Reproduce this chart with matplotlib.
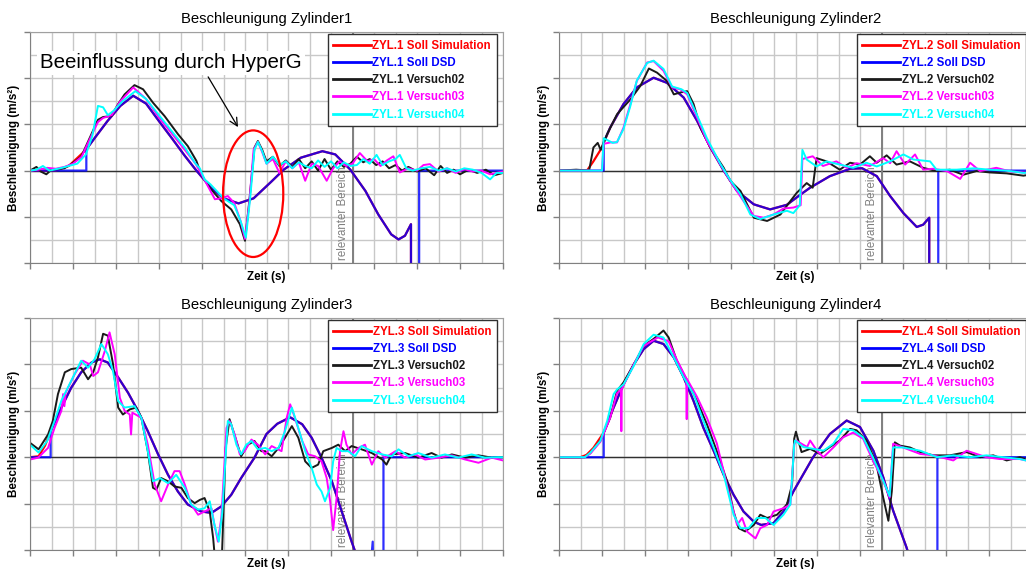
import matplotlib
matplotlib.use("Agg")
import matplotlib.pyplot as plt
from matplotlib.lines import Line2D
from matplotlib.patches import Ellipse, Rectangle
from matplotlib.ticker import MultipleLocator, NullFormatter

plt.rcParams['font.family'] = ['Liberation Sans', 'DejaVu Sans']
plt.rcParams['lines.solid_joinstyle'] = 'round'

# ---------------- Zylinder 1 ----------------
z1_sim_t = [0, 0.6, 0.9, 1.2, 1.31, 1.5, 1.8, 2.1, 2.4, 2.7, 3.0, 3.3, 3.6, 3.87, 4.2, 4.5, 4.85,
            5.2, 5.6, 5.9, 6.3, 6.8, 7.1, 7.45, 7.8, 8.1, 8.4, 8.57, 8.72, 8.86, 8.86]
z1_sim_a = [0, 0, 0.1, 0.36, 0.46, 0.7, 1.07, 1.4, 1.62, 1.45, 1.07, 0.7, 0.32, 0.0, -0.36, -0.6, -0.71,
            -0.6, -0.25, 0.02, 0.28, 0.42, 0.35, 0.02, -0.44, -0.95, -1.38, -1.49, -1.41, -1.16, -3.0]
z1_dsd_t = [0, 1.31, 1.31, 1.5, 1.8, 2.1, 2.4, 2.7, 3.0, 3.3, 3.6, 3.87, 4.2, 4.5, 4.85,
            5.2, 5.6, 5.9, 6.3, 6.8, 7.1, 7.45, 7.8, 8.1, 8.4, 8.57, 8.72, 8.86, 8.86, 9.05, 9.05, 11]
z1_dsd_a = [0, 0, 0.46, 0.7, 1.07, 1.4, 1.62, 1.45, 1.07, 0.7, 0.32, 0.0, -0.36, -0.6, -0.71,
            -0.6, -0.25, 0.02, 0.28, 0.42, 0.35, 0.02, -0.44, -0.95, -1.38, -1.49, -1.41, -1.16, -3.0, -3.0, 0, 0]
z1_v02_t = [0, 0.15, 0.25, 0.38, 0.5, 0.8, 0.96, 1.19, 1.39, 1.58, 1.7, 1.89, 2.05, 2.2, 2.43, 2.63, 2.86,
            3.13, 3.44, 3.67, 3.87, 3.98, 4.18, 4.45, 4.68, 4.88, 5.0, 5.1, 5.22, 5.3, 5.4, 5.5, 5.65,
            5.8, 5.95, 6.1, 6.25, 6.4, 6.55, 6.7, 6.85, 7.0, 7.15, 7.3, 7.45, 7.6, 7.75, 7.9, 8.05,
            8.2, 8.35, 8.5, 8.65, 8.8, 9.0, 9.2, 9.4, 9.55, 9.7, 9.85, 10.0, 10.2, 10.4, 10.6, 10.8, 11]
z1_v02_a = [0, 0.08, -0.02, -0.08, 0.02, 0.05, 0.14, 0.3, 0.71, 1.1, 1.16, 1.18, 1.44, 1.65, 1.85, 1.76, 1.47,
            1.18, 0.79, 0.53, 0.21, -0.08, -0.37, -0.66, -0.84, -1.16, -1.52, -0.66, 0.5, 0.64, 0.45, 0.2, 0.3,
            0.1, 0.22, 0.08, 0.25, 0.05, 0.2, 0.0, 0.25, 0.02, 0.2, 0.08, 0.15, 0.3, 0.18, 0.25, 0.12,
            0.2, 0.05, 0.12, 0.0, 0.08, -0.02, 0.05, -0.1, 0.1, -0.05, 0.02, -0.08, 0.02, -0.05, 0.02, -0.1, -0.05]
z1_v03_t = [0, 0.2, 0.4, 0.6, 0.8, 1.0, 1.2, 1.4, 1.58, 1.7, 1.9, 2.1, 2.4, 2.7, 3.0, 3.3, 3.6, 3.85,
            4.0, 4.3, 4.45, 4.6, 4.75, 4.9, 5.0, 5.1, 5.2, 5.3, 5.4, 5.5, 5.65, 5.8, 5.95, 6.1, 6.25,
            6.4, 6.55, 6.7, 6.9, 7.05, 7.2, 7.35, 7.5, 7.67, 7.85, 8.0, 8.15, 8.3, 8.45, 8.6, 8.8,
            9.0, 9.15, 9.3, 9.5, 9.7, 9.9, 10.1, 10.3, 10.5, 10.7, 10.85, 11]
z1_v03_a = [0, 0.02, 0.06, 0.04, 0.08, 0.15, 0.3, 0.7, 1.05, 1.14, 1.2, 1.5, 1.8, 1.55, 1.15, 0.8, 0.45, 0.15,
            -0.1, -0.62, -0.6, -0.55, -0.7, -1.1, -1.48, -0.7, 0.45, 0.62, 0.4, 0.15, 0.25, -0.05, 0.2, 0.05, 0.18,
            -0.22, 0.15, 0.1, -0.22, 0.05, 0.2, 0.1, 0.15, 0.38, 0.2, 0.25, 0.1, 0.22, 0.31, -0.04, 0.05,
            0.0, 0.12, 0.14, -0.02, 0.05, -0.05, 0.03, -0.02, 0.0, -0.08, -0.05, -0.02]
z1_v04_t = [0, 0.15, 0.3, 0.45, 0.7, 0.9, 1.1, 1.3, 1.45, 1.58, 1.7, 1.81, 1.95, 2.15, 2.45, 2.7, 3.0,
            3.3, 3.6, 3.85, 3.95, 4.06, 4.2, 4.5, 4.75, 4.9, 5.02, 5.12, 5.22, 5.3, 5.4, 5.5, 5.65,
            5.8, 5.95, 6.1, 6.25, 6.4, 6.55, 6.7, 6.85, 7.0, 7.15, 7.3, 7.45, 7.6, 7.75, 7.9, 8.06,
            8.2, 8.35, 8.5, 8.6, 8.75, 8.9, 9.1, 9.3, 9.5, 9.7, 9.9, 10.1, 10.3, 10.5, 10.7, 10.85, 11]
z1_v04_a = [0, 0.02, 0.1, 0.0, 0.05, 0.1, 0.15, 0.35, 0.75, 1.4, 1.37, 1.2, 1.3, 1.5, 1.72, 1.55, 1.2,
            0.85, 0.5, 0.15, 0.05, -0.19, -0.3, -0.6, -0.75, -1.1, -1.45, -0.6, 0.45, 0.62, 0.42, 0.15, 0.3,
            0.12, 0.2, 0.05, 0.18, 0.1, 0.05, 0.22, 0.08, 0.2, 0.05, 0.18, 0.1, 0.12, 0.25, 0.15, 0.34,
            0.12, 0.2, 0.25, 0.34, 0.05, 0.0, 0.05, 0.08, 0.0, 0.05, -0.02, 0.05, 0.02, -0.05, -0.19, -0.05, -0.05]

# ---------------- Zylinder 2 ----------------
z2_sim_t = [0, 0.65, 0.8, 1.0, 1.04, 1.19, 1.5, 1.81, 2.2, 2.51, 2.9, 3.21, 3.52, 3.83, 4.14, 4.53, 4.91,
            5.3, 5.6, 5.84, 6.3, 6.77, 7.05, 7.39, 7.7, 8.01, 8.32, 8.47, 8.61, 8.61]
z2_sim_a = [0, 0, 0.2, 0.5, 0.6, 0.93, 1.44, 1.8, 2.01, 1.9, 1.58, 1.08, 0.5, 0.0, -0.44, -0.73, -0.84,
            -0.74, -0.53, -0.37, -0.12, 0.04, 0.05, -0.12, -0.55, -0.92, -1.22, -1.17, -1.02, -3.0]
z2_dsd_t = [0, 1.04, 1.04, 1.19, 1.5, 1.81, 2.2, 2.51, 2.9, 3.21, 3.52, 3.83, 4.14, 4.53, 4.91,
            5.3, 5.6, 5.84, 6.3, 6.77, 7.05, 7.39, 7.7, 8.01, 8.32, 8.47, 8.61, 8.61, 8.82, 8.82, 11]
z2_dsd_a = [0, 0, 0.62, 0.93, 1.44, 1.8, 2.01, 1.9, 1.58, 1.08, 0.5, 0.0, -0.44, -0.73, -0.84,
            -0.74, -0.53, -0.37, -0.12, 0.04, 0.05, -0.12, -0.55, -0.92, -1.22, -1.17, -1.02, -3.0, -3.0, 0, 0]
z2_v02_t = [0, 0.4, 0.7, 0.8, 0.9, 0.97, 1.12, 1.35, 1.66, 1.89, 2.09, 2.28, 2.51, 2.67, 2.82, 2.98, 3.13,
            3.29, 3.52, 3.83, 3.98, 4.22, 4.53, 4.84, 5.15, 5.38, 5.53, 5.76, 5.9, 5.99, 6.22, 6.53, 6.77,
            7.0, 7.23, 7.39, 7.62, 7.85, 8.16, 8.47, 8.78, 9.09, 9.4, 9.71, 10.02, 10.41, 10.8, 11]
z2_v02_a = [0, 0.02, 0.0, 0.5, 0.6, 0.45, 0.79, 1.22, 1.54, 1.83, 2.21, 2.12, 1.94, 1.65, 1.69, 1.72, 1.44,
            0.93, 0.5, 0.06, -0.22, -0.44, -1.02, -1.09, -0.95, -0.66, -0.48, -0.27, -0.37, 0.27, 0.2, 0.02, 0.17,
            0.13, 0.31, 0.17, 0.33, 0.13, 0.2, 0.06, -0.01, 0.02, -0.09, -0.01, -0.04, -0.06, -0.11, -0.08]
z2_v03_t = [0, 0.5, 1.0, 1.04, 1.2, 1.35, 1.5, 1.66, 1.81, 2.05, 2.2, 2.43, 2.63, 2.82, 2.98, 3.21, 3.44,
            3.75, 3.98, 4.29, 4.53, 4.76, 4.99, 5.22, 5.45, 5.62, 5.66, 5.9, 6.14, 6.45, 6.69, 6.92, 7.23,
            7.54, 7.7, 7.85, 8.05, 8.28, 8.47, 8.7, 9.02, 9.33, 9.56, 9.79, 10.17, 10.5, 10.8, 11]
z2_v03_a = [0, 0, 0.0, 0.58, 0.61, 0.61, 0.93, 1.44, 1.94, 2.34, 2.37, 2.16, 1.8, 1.76, 1.65, 1.15, 0.64,
            0.14, -0.22, -0.66, -0.98, -1.02, -0.95, -0.82, -0.8, -0.75, 0.25, 0.31, 0.1, 0.2, 0.06, 0.16, 0.1,
            0.27, 0.16, 0.42, 0.13, 0.35, 0.02, 0.04, -0.01, -0.18, 0.17, -0.01, 0.06, -0.02, -0.04, -0.06]
z2_v04_t = [0, 0.5, 1.0, 1.04, 1.25, 1.35, 1.5, 1.66, 1.81, 2.05, 2.2, 2.43, 2.63, 2.85, 2.98, 3.21, 3.44,
            3.75, 3.98, 4.22, 4.45, 4.68, 4.99, 5.3, 5.45, 5.6, 5.66, 5.76, 5.99, 6.22, 6.53, 6.84, 7.15,
            7.39, 7.7, 8.01, 8.24, 8.63, 8.78, 9.25, 9.64, 10.02, 10.4, 10.8, 11]
z2_v04_a = [0, 0, 0, 0.7, 0.6, 0.62, 0.9, 1.4, 1.95, 2.33, 2.38, 2.2, 1.82, 1.76, 1.68, 1.2, 0.7,
            0.15, -0.2, -0.51, -0.95, -1.05, -0.95, -0.87, -0.92, -0.75, 0.45, 0.24, 0.09, 0.2, 0.13, 0.06, 0.17,
            0.09, 0.2, 0.35, 0.24, 0.2, 0.02, 0.02, 0.05, 0.02, 0.0, -0.05, -0.04]

# ---------------- Zylinder 3 ----------------
z3_sim_t = [0, 0.2, 0.35, 0.48, 0.73, 0.96, 1.19, 1.43, 1.62, 1.81, 2.05, 2.28, 2.51, 2.74, 2.98, 3.21,
            3.44, 3.67, 3.98, 4.22, 4.45, 4.68, 4.91, 5.22, 5.5, 5.75, 6.05, 6.33, 6.55, 6.78, 7.02, 7.25,
            7.48, 7.56, 7.8]
z3_sim_a = [0, 0.02, 0.25, 0.56, 1.07, 1.5, 1.83, 2.04, 2.11, 2.04, 1.72, 1.39, 1.0, 0.56, 0.06, -0.38,
            -0.74, -1.02, -1.17, -1.2, -1.06, -0.81, -0.45, -0.01, 0.5, 0.72, 0.86, 0.71, 0.42, -0.01, -0.52, -1.17,
            -1.82, -2.03, -2.6]
z3_dsd_t = [0, 0.48, 0.48, 0.73, 0.96, 1.19, 1.43, 1.62, 1.81, 2.05, 2.28, 2.51, 2.74, 2.98, 3.21,
            3.44, 3.67, 3.98, 4.22, 4.45, 4.68, 4.91, 5.22, 5.5, 5.75, 6.05, 6.33, 6.55, 6.78, 7.02, 7.25,
            7.48, 7.56, 7.8, 7.92, 7.97, 7.99, 8.22, 8.22, 11]
z3_dsd_a = [0, 0, 0.56, 1.07, 1.5, 1.83, 2.04, 2.11, 2.04, 1.72, 1.39, 1.0, 0.56, 0.06, -0.38,
            -0.74, -1.02, -1.17, -1.2, -1.06, -0.81, -0.45, -0.01, 0.5, 0.72, 0.86, 0.71, 0.42, -0.01, -0.52, -1.17,
            -1.82, -2.03, -2.6, -2.4, -1.82, -3.0, -3.0, 0, 0]
z3_v02_t = [0, 0.2, 0.42, 0.53, 0.65, 0.81, 0.96, 1.19, 1.35, 1.47, 1.58, 1.7, 1.81, 1.93, 2.05, 2.16,
            2.32, 2.47, 2.59, 2.74, 2.86, 2.94, 3.05, 3.21, 3.36, 3.52, 3.67, 3.83, 3.95, 4.06, 4.18, 4.26,
            4.33, 4.45, 4.55, 4.64, 4.8, 4.91, 5.07, 5.22, 5.38, 5.47, 5.62, 5.78, 5.93, 6.09, 6.24, 6.4,
            6.55, 6.7, 6.82, 7.02, 7.17, 7.33, 7.48, 7.71, 7.95, 8.19, 8.29, 8.41, 8.72, 9.03, 9.34, 9.57,
            9.81, 10.12, 10.43, 10.74, 11]
z3_v02_a = [0.31, 0.17, 0.49, 0.78, 1.36, 1.83, 1.9, 1.93, 1.68, 1.83, 2.15, 2.66, 2.62, 2.01, 1.07, 0.92,
            1.03, 1.07, 0.85, 0.13, -0.66, -0.7, -0.45, -0.52, -0.63, -0.66, -0.88, -0.99, -0.92, -0.88, -1.17, -1.75,
            -2.5, -2.5, 0.2, 0.82, 0.35, 0.02, 0.27, 0.35, 0.13, 0.13, 0.02, 0.2, 0.42, 0.67, 0.42, -0.09,
            -0.23, -0.16, 0.13, 0.2, 0.27, 0.13, 0.24, 0.17, 0.09, -0.05, -0.16, 0.06, 0.09, -0.01, 0.09, -0.01,
            0.06, -0.01, 0.04, -0.01, 0.0]
z3_v03_t = [0, 0.19, 0.42, 0.57, 0.73, 0.77, 0.8, 0.83, 1.04, 1.23, 1.39, 1.47, 1.58, 1.74, 1.85, 1.97,
            2.09, 2.2, 2.32, 2.35, 2.38, 2.59, 2.74, 2.9, 3.05, 3.21, 3.36, 3.48, 3.6, 3.75, 3.91, 4.06,
            4.22, 4.29, 4.37, 4.45, 4.57, 4.64, 4.76, 4.88, 4.99, 5.15, 5.3, 5.47, 5.62, 5.85, 5.97, 6.05,
            6.16, 6.33, 6.47, 6.63, 6.78, 6.9, 6.98, 7.05, 7.13, 7.21, 7.29, 7.36, 7.48, 7.64, 7.79, 7.95,
            8.1, 8.26, 8.5, 8.72, 8.95, 9.19, 9.5, 9.81, 10.12, 10.43, 10.74, 11]
z3_v03_a = [-0.05, -0.01, 0.2, 0.63, 1.0, 1.36, 1.1, 1.39, 1.79, 2.08, 2.0, 1.75, 1.83, 2.29, 2.69, 2.22,
            1.28, 1.0, 0.92, 0.49, 0.96, 0.85, 0.27, -0.59, -0.95, -0.59, -0.3, -0.3, -0.59, -1.02, -1.24, -1.17,
            -1.1, -1.46, -1.82, -1.3, 0.63, 0.78, 0.49, 0.06, 0.13, 0.38, 0.27, 0.06, 0.24, 0.13, 0.85, 1.14,
            0.85, 0.35, 0.06, 0.02, -0.09, -0.45, -0.95, -1.57, -0.88, 0.13, 0.56, 0.27, 0.06, 0.2, 0.27, -0.16,
            0.13, -0.01, 0.13, -0.01, 0.06, -0.05, -0.01, 0.04, -0.05, -0.12, -0.01, -0.07]
z3_v04_t = [0, 0.2, 0.4, 0.57, 0.73, 0.96, 1.19, 1.35, 1.5, 1.66, 1.81, 1.93, 2.05, 2.2, 2.43, 2.59,
            2.74, 2.86, 3.02, 3.21, 3.4, 3.6, 3.75, 3.91, 4.06, 4.18, 4.29, 4.39, 4.47, 4.6, 4.68, 4.8,
            4.91, 5.03, 5.15, 5.3, 5.47, 5.62, 5.78, 5.93, 6.09, 6.24, 6.4, 6.55, 6.67, 6.78, 6.86, 6.98,
            7.05, 7.13, 7.25, 7.4, 7.56, 7.71, 7.95, 8.19, 8.41, 8.57, 8.8, 9.03, 9.34, 9.65, 9.96, 10.27,
            10.58, 10.89, 11]
z3_v04_a = [0.27, 0.1, 0.35, 0.78, 1.22, 1.65, 2.08, 1.93, 2.11, 2.44, 2.22, 1.86, 1.21, 1.07, 1.1, 0.85,
            0.13, -0.52, -0.45, -0.56, -0.38, -0.66, -1.02, -1.13, -1.1, -0.95, -1.46, -1.82, -1.2, 0.78, 0.71, 0.27,
            0.06, 0.27, 0.35, 0.17, 0.2, 0.13, 0.2, 0.56, 1.07, 0.63, 0.13, -0.23, -0.59, -0.74, -0.95, -0.66,
            -0.09, 0.2, 0.13, 0.13, 0.02, 0.24, 0.13, 0.06, 0.02, 0.17, 0.02, 0.09, -0.01, 0.06, -0.01, 0.06,
            -0.01, 0.0, 0.0]

# ---------------- Zylinder 4 ----------------
z4_sim_t = [0, 0.5, 0.64, 0.8, 1.04, 1.27, 1.5, 1.74, 1.97, 2.2, 2.43, 2.67, 2.9, 3.13, 3.36, 3.6, 3.83,
            4.06, 4.29, 4.53, 4.7, 4.99, 5.22, 5.45, 5.91, 6.3, 6.69, 7.0, 7.31, 7.54, 7.77, 8.08, 8.3]
z4_sim_a = [0, 0, 0.05, 0.2, 0.53, 1.07, 1.57, 2.0, 2.33, 2.51, 2.44, 2.15, 1.72, 1.21, 0.63, 0.13, -0.38,
            -0.81, -1.17, -1.39, -1.46, -1.42, -1.17, -0.74, 0.0, 0.5, 0.79, 0.65, 0.14, -0.43, -1.15, -1.94, -2.6]
z4_dsd_t = [0, 1.04, 1.04, 1.27, 1.5, 1.74, 1.97, 2.2, 2.43, 2.67, 2.9, 3.13, 3.36, 3.6, 3.83,
            4.06, 4.29, 4.53, 4.7, 4.99, 5.22, 5.45, 5.91, 6.3, 6.69, 7.0, 7.31, 7.54, 7.77, 8.08, 8.3,
            8.8, 8.8, 11]
z4_dsd_a = [0, 0, 0.53, 1.07, 1.57, 2.0, 2.33, 2.51, 2.44, 2.15, 1.72, 1.21, 0.63, 0.13, -0.38,
            -0.81, -1.17, -1.39, -1.46, -1.42, -1.17, -0.74, 0.0, 0.5, 0.79, 0.65, 0.14, -0.43, -1.15, -1.94, -2.6,
            -3.0, 0, 0]
z4_v02_t = [0, 0.6, 0.73, 0.96, 1.19, 1.35, 1.5, 1.74, 1.97, 2.2, 2.43, 2.55, 2.74, 2.98, 3.21, 3.44,
            3.67, 3.91, 4.06, 4.18, 4.33, 4.53, 4.68, 4.84, 5.07, 5.3, 5.42, 5.47, 5.51, 5.64, 5.84, 6.07,
            6.3, 6.53, 6.77, 6.92, 7.15, 7.38, 7.54, 7.66, 7.74, 7.81, 7.93, 8.16, 8.4, 8.71, 9.09, 9.48,
            9.79, 10.1, 10.41, 10.72, 11]
z4_v02_a = [0, 0.0, 0.09, 0.35, 0.85, 1.43, 1.61, 2.0, 2.4, 2.55, 2.73, 2.58, 2.08, 1.65, 1.21, 0.71,
            0.13, -0.52, -1.17, -1.53, -1.6, -1.46, -1.24, -1.31, -1.24, -1.02, -0.59, 0.4, 0.55, 0.11, 0.18, 0.07,
            0.22, 0.36, 0.61, 0.58, 0.36, -0.14, -0.87, -1.37, -0.73, 0.32, 0.25, 0.21, 0.11, 0.04, 0.04, 0.11,
            0.0, 0.04, -0.07, 0.0, -0.1]
z4_v03_t = [0, 0.6, 0.73, 0.96, 1.19, 1.35, 1.44, 1.45, 1.46, 1.74, 1.97, 2.3, 2.55, 2.74, 2.96, 2.97,
            2.98, 3.21, 3.44, 3.67, 3.98, 4.14, 4.26, 4.37, 4.57, 4.68, 4.84, 4.99, 5.22, 5.38, 5.47, 5.51,
            5.77, 5.84, 6.0, 6.15, 6.38, 6.61, 6.84, 7.07, 7.3, 7.54, 7.69, 7.77, 8.0, 8.4, 8.71, 9.17,
            9.48, 9.94, 10.25, 10.72, 11]
z4_v03_a = [0, 0.0, 0.08, 0.33, 0.85, 1.38, 1.45, 0.56, 1.47, 2.0, 2.4, 2.58, 2.5, 2.1, 1.7, 0.82,
            1.68, 1.3, 0.85, 0.3, -0.88, -1.46, -1.31, -1.6, -1.75, -1.53, -1.46, -1.17, -1.1, -1.02, 0.27, 0.36,
            0.22, 0.36, 0.14, 0.0, 0.21, 0.43, 0.53, 0.4, -0.07, -0.51, -0.87, 0.29, 0.21, 0.07, 0.04, -0.07,
            0.14, 0.0, -0.04, -0.04, -0.1]
z4_v04_t = [0, 0.6, 0.73, 0.96, 1.12, 1.27, 1.35, 1.5, 1.74, 1.97, 2.2, 2.43, 2.67, 2.9, 3.13, 3.36,
            3.6, 3.83, 4.06, 4.22, 4.41, 4.6, 4.8, 4.99, 5.22, 5.38, 5.47, 5.49, 5.68, 5.91, 6.15, 6.38,
            6.61, 6.84, 7.07, 7.3, 7.54, 7.69, 7.77, 8.0, 8.4, 8.79, 9.17, 9.55, 9.94, 10.33, 10.72, 11]
z4_v04_a = [0, 0.0, 0.1, 0.35, 0.78, 1.36, 1.46, 1.57, 1.97, 2.44, 2.64, 2.58, 2.15, 1.72, 1.36, 0.78,
            0.2, -0.37, -1.24, -1.53, -1.53, -1.31, -1.31, -1.46, -1.24, -1.02, 0.27, 0.36, 0.22, 0.18, 0.14, 0.29,
            0.61, 0.58, 0.43, 0.0, -0.51, -0.84, 0.21, 0.21, 0.14, 0.0, 0.04, 0.0, 0.04, 0.0, -0.04, -0.1]

series_names = ["Soll Simulation", "Soll DSD", "Versuch02", "Versuch03", "Versuch04"]
series_colors = ["#ff0000", "#0000ff", "#1a1a1a", "#ff00ff", "#00ffff"]

W, H = 1026, 569
fig = plt.figure(figsize=(W / 100, H / 100), dpi=100)
fig.patch.set_facecolor("white")


def make_axes(left, top, bottom, width=473):
    return fig.add_axes([left / W, 1 - bottom / H, width / W, (bottom - top) / H])


def draw_panel(ax, num, data):
    ax.set_xlim(0, 11)
    ax.set_ylim(-2, 3)
    ax.xaxis.set_major_locator(MultipleLocator(1))
    ax.xaxis.set_minor_locator(MultipleLocator(0.5))
    ax.yaxis.set_major_locator(MultipleLocator(1))
    ax.yaxis.set_minor_locator(MultipleLocator(0.5))
    ax.xaxis.set_major_formatter(NullFormatter())
    ax.yaxis.set_major_formatter(NullFormatter())
    ax.tick_params(which="major", direction="out", length=4, width=1, color="#808080")
    ax.tick_params(which="minor", length=0)
    ax.grid(True, which="both", color="#c8c8c8", lw=1.0, zorder=0)
    ax.set_axisbelow(True)
    for side in ["left", "bottom"]:
        ax.spines[side].set_color("#808080")
    for side in ["top", "right"]:
        ax.spines[side].set_color("#a0a0a0")

    ax.axhline(0, color="#303030", lw=1.0, zorder=1.2)
    ax.axvline(7.5, color="#808080", lw=1.4, zorder=1.3)
    t = ax.text(7.28, -1.93, "relevanter Bereich", rotation=90, ha="center", va="bottom",
                color="#808080", fontsize=8.3, zorder=1.4)
    t.set_clip_path(Rectangle((6.5, -2), 1.0, 2.0, transform=ax.transData))

    (sim_t, sim_a), (dsd_t, dsd_a) = data[0], data[1]
    ax.plot(sim_t, sim_a, color=series_colors[0], lw=1.6, zorder=2)
    ax.plot(dsd_t, dsd_a, color=series_colors[1], lw=1.6, alpha=0.82, zorder=2.1)
    for k in range(2, 5):
        tt, aa = data[k]
        ax.plot(tt, aa, color=series_colors[k], lw=1.4, zorder=2 + 0.1 * k)

    handles = [Line2D([], [], color=c, lw=2.0) for c in series_colors]
    labels = [f"ZYL.{num} {n}" for n in series_names]
    leg = ax.legend(handles, labels, loc="upper right", bbox_to_anchor=(0.987, 0.991),
                    borderaxespad=0, fancybox=False, framealpha=1, edgecolor="#303030",
                    prop={"family": "Liberation Sans", "weight": "bold", "size": 8.3},
                    handlelength=3.3, handletextpad=0.1, borderpad=0.5, labelspacing=0.45)
    leg.get_frame().set_linewidth(1.0)
    leg.set_zorder(10)
    for txt, c in zip(leg.get_texts(), series_colors):
        txt.set_color(c)

    ax.set_title(f"Beschleunigung Zylinder{num}", fontsize=10.7, pad=6.3)
    ax.text(0.5, -17 / 231, "Zeit (s)", transform=ax.transAxes, ha="center", va="baseline",
            fontsize=8.4, fontweight="bold")
    ax.text(-15.5 / 473, 0.5, "Beschleunigung (m/s²)", transform=ax.transAxes, rotation=90,
            ha="center", va="center", fontsize=8.4, fontweight="bold")


panels = [
    (make_axes(30, 32, 263), 1, [(z1_sim_t, z1_sim_a), (z1_dsd_t, z1_dsd_a), (z1_v02_t, z1_v02_a),
                                (z1_v03_t, z1_v03_a), (z1_v04_t, z1_v04_a)]),
    (make_axes(559, 32, 263), 2, [(z2_sim_t, z2_sim_a), (z2_dsd_t, z2_dsd_a), (z2_v02_t, z2_v02_a),
                                 (z2_v03_t, z2_v03_a), (z2_v04_t, z2_v04_a)]),
    (make_axes(30, 318, 550), 3, [(z3_sim_t, z3_sim_a), (z3_dsd_t, z3_dsd_a), (z3_v02_t, z3_v02_a),
                                 (z3_v03_t, z3_v03_a), (z3_v04_t, z3_v04_a)]),
    (make_axes(559, 318, 550), 4, [(z4_sim_t, z4_sim_a), (z4_dsd_t, z4_dsd_a), (z4_v02_t, z4_v02_a),
                                  (z4_v03_t, z4_v03_a), (z4_v04_t, z4_v04_a)]),
]
for ax, num, data in panels:
    draw_panel(ax, num, data)

# Highlight of the HyperG influence in cylinder 1
ax1 = panels[0][0]
ax1.text(0.233, 2.33, "Beeinflussung durch HyperG", fontsize=14.8, ha="left", va="center",
         bbox=dict(facecolor="white", edgecolor="none", pad=2), zorder=5)
ax1.annotate("", xy=(4.87, 0.89), xytext=(4.11, 2.08),
             arrowprops=dict(arrowstyle="->", color="black", lw=0.9, mutation_scale=14), zorder=6)
ax1.add_patch(Ellipse((5.19, -0.5), 1.4, 2.74, fill=False, edgecolor="#ff0000", lw=1.6, zorder=7))

fig.savefig("out.png", dpi=100)
